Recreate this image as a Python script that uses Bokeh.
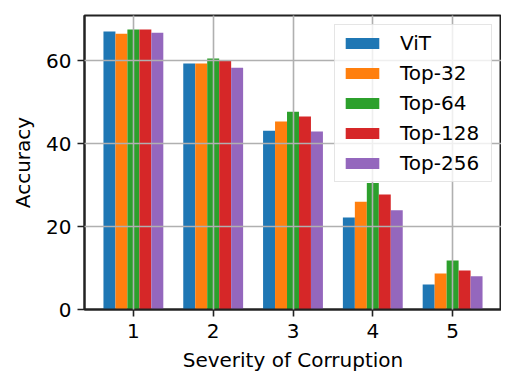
from bokeh.plotting import figure
from bokeh.models import ColumnDataSource, Range1d, FixedTicker, Legend, LegendItem
from bokeh.transform import dodge
from bokeh.embed import file_html
from bokeh.resources import INLINE

severity = [1, 2, 3, 4, 5]
vit = [67.0, 59.3, 43.1, 22.2, 6.0]
top32 = [66.5, 59.3, 45.3, 26.0, 8.7]
top64 = [67.5, 60.5, 47.7, 30.5, 11.8]
top128 = [67.5, 60.0, 46.5, 27.7, 9.4]
top256 = [66.7, 58.3, 42.9, 23.9, 8.0]

series_names = ["ViT", "Top-32", "Top-64", "Top-128", "Top-256"]
colors = ["#1f77b4", "#ff7f0e", "#2ca02c", "#d62728", "#9467bd"]
offsets = [-0.3, -0.15, 0.0, 0.15, 0.3]
bar_width = 0.15

src = ColumnDataSource(dict(x=severity, vit=vit, top32=top32, top64=top64,
                            top128=top128, top256=top256))
cols = ["vit", "top32", "top64", "top128", "top256"]

FONT = "DejaVu Sans"

p = figure(frame_width=417, frame_height=294, output_backend="svg", toolbar_location=None,
           x_range=Range1d(0.3875, 5.6125), y_range=Range1d(0, 70.875),
           min_border_left=84, min_border_right=0, min_border_top=15,
           min_border_bottom=72)

items = []
for name, col, c, off in zip(series_names, cols, colors, offsets):
    r = p.vbar(x=dodge("x", off), top=col, width=bar_width, source=src,
               fill_color=c, line_color=None)
    items.append(LegendItem(label=name, renderers=[r]))

p.xaxis.ticker = FixedTicker(ticks=severity)
p.yaxis.ticker = FixedTicker(ticks=[0, 20, 40, 60])
p.xaxis.axis_label = "Severity of Corruption"
p.yaxis.axis_label = "Accuracy"

for ax in (p.xaxis, p.yaxis):
    ax.axis_label_text_font = FONT
    ax.axis_label_text_font_size = "20px"
    ax.axis_label_text_font_style = "normal"
    ax.axis_label_text_color = "black"
    ax.major_label_text_font = FONT
    ax.major_label_text_font_size = "20px"
    ax.major_label_text_color = "black"
    ax.major_tick_in = 0
    ax.major_tick_out = 7
    ax.major_tick_line_width = 1.6
    ax.major_tick_line_color = "#222222"
    ax.minor_tick_line_color = None
    ax.axis_line_color = "#222222"
    ax.axis_line_width = 2
    ax.major_label_standoff = 6
p.xaxis.major_label_standoff = 7
p.xaxis.axis_label_standoff = 7
p.yaxis.axis_label_standoff = 8

p.outline_line_color = "#222222"
p.outline_line_width = 2

for g in (p.xgrid, p.ygrid):
    g.grid_line_color = "#b0b0b0"
    g.grid_line_width = 1.6
    g.level = "guide"

legend = Legend(items=items, location="top_right")
legend.label_text_font = FONT
legend.label_text_font_size = "20px"
legend.label_text_color = "black"
legend.glyph_width = 42
legend.glyph_height = 14
legend.label_height = 20
legend.label_width = 85
legend.label_standoff = 17
legend.spacing = 6
legend.padding = 6
legend.margin = 9
legend.border_line_color = "#cccccc"
legend.border_line_width = 1.5
legend.background_fill_color = "white"
legend.background_fill_alpha = 0.8
p.add_layout(legend, "center")

open("out.html", "w").write(file_html(p, INLINE))
